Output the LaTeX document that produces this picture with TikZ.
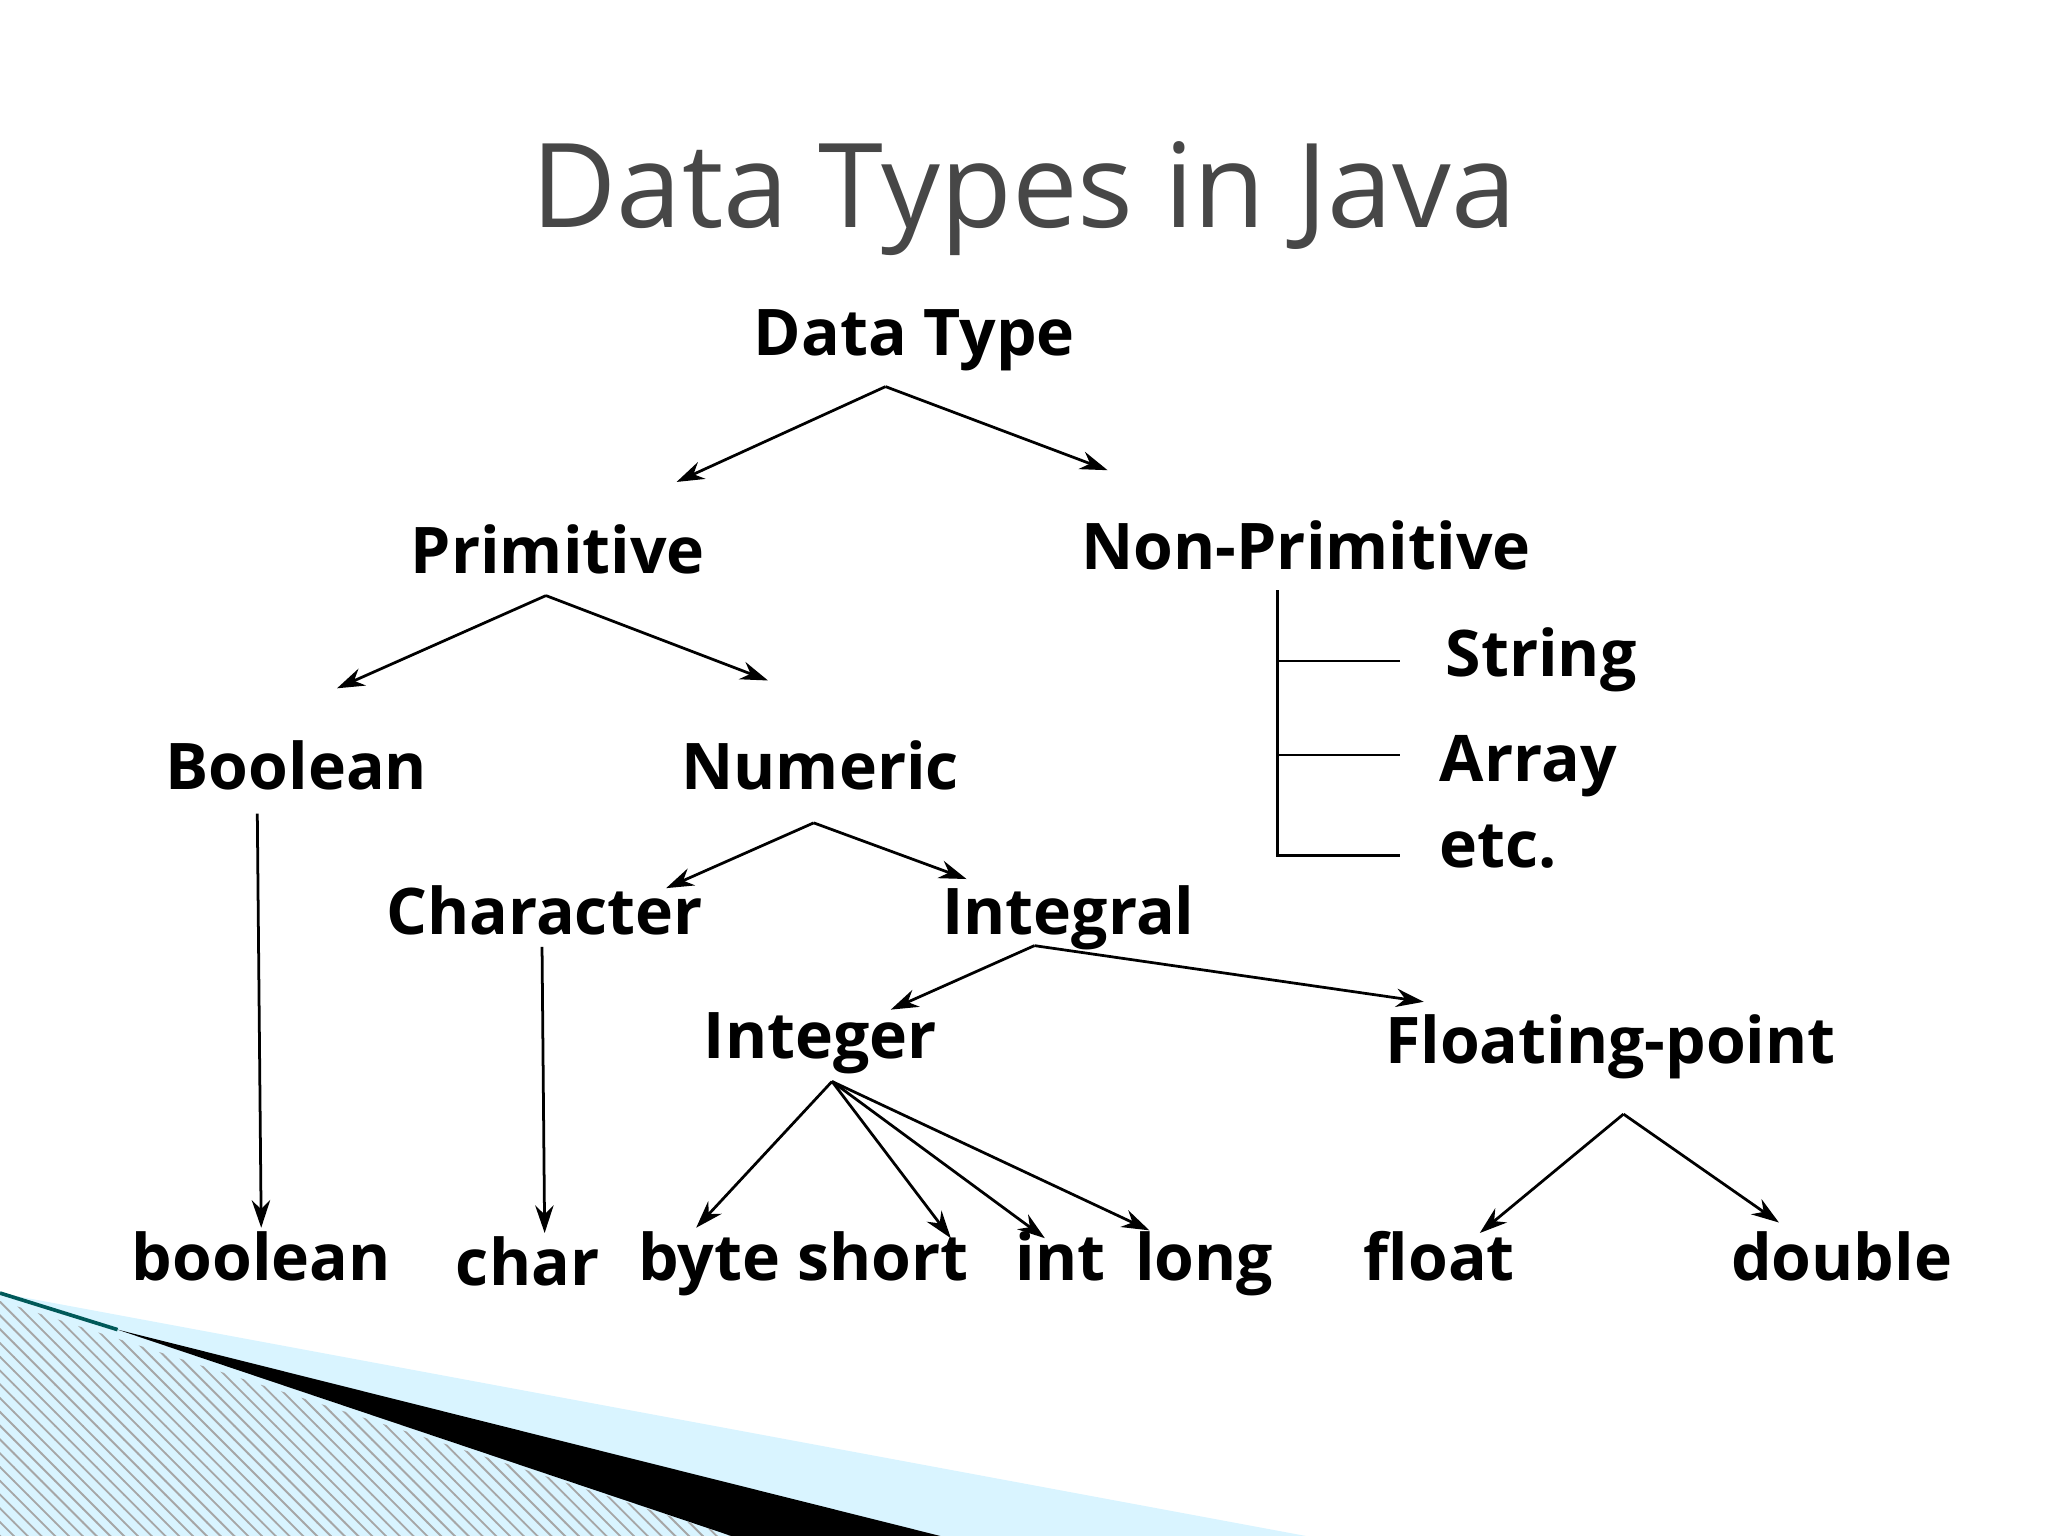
\documentclass[tikz,border=0pt]{standalone}
\usepackage{fontspec}
\setmainfont{Open Sans}
\usetikzlibrary{arrows.meta,patterns}
\begin{document}
\begin{tikzpicture}[x=0.01cm,y=-0.01cm,
  lab/.style={font=\fontsize{14}{16}\selectfont\bfseries, inner sep=1pt, text height=10.5pt, text depth=3.5pt},
  arr/.style={-{Stealth[length=6pt,width=4pt]}, line width=0.6pt},
  ln/.style={line width=0.6pt}]
\useasboundingbox (0,0) rectangle (1568,1176);
% decoration
\fill[blue!30!cyan!15] (0,990) -- (1000,1176) -- (0,1176) -- cycle;
\fill[pattern=north west lines, pattern color=gray!70] (0,996) -- (560,1176) -- (0,1176) -- cycle;
\fill[black] (90,1018) -- (720,1176) -- (560,1176) -- cycle;
\draw[teal!70!black, line width=0.8pt] (0,990) -- (90,1018);
% title
\node[font=\fontsize{25.5}{30}\selectfont, text=black!72] (title) at (784,152) {Data Types in Java};
% nodes
\node[lab] (dt) at (700,260) {Data Type};
\node[lab] (prim) at (427,427) {Primitive};
\node[lab] (np) at (1000,424) {Non-Primitive};
\node[lab] (str) at (1180,506) {String};
\node[lab] (arrn) at (1170,586) {Array};
\node[lab] (etc) at (1147,652) {etc.};
\node[lab] (bool) at (227,592) {Boolean};
\node[lab] (num) at (628,592) {Numeric};
\node[lab] (chr) at (417,703) {Character};
\node[lab] (intg) at (818,703) {Integral};
\node[lab] (integer) at (628,798) {Integer};
\node[lab] (fp) at (1233,802) {Floating-point};
\node[lab] (b1) at (200,968) {boolean};
\node[lab] (b2) at (404,972) {char};
\node[lab] (b3) at (543,968) {byte};
\node[lab] (b4) at (676,968) {short};
\node[lab] (b5) at (812,968) {int};
\node[lab] (b6) at (922,968) {long};
\node[lab] (b7) at (1102,968) {float};
\node[lab] (b8) at (1410,968) {double};
% connector anchors
\coordinate (dtb) at (678,296);
\coordinate (primb) at (418,456);
\coordinate (numb) at (623,630);
\coordinate (intgb) at (792,724);
\coordinate (integerb) at (637,828);
\coordinate (fpb) at (1243,853);
\draw[arr] (dtb) -- (518,369);
\draw[arr] (dtb) -- (848,360);
\draw[arr] (primb) -- (258,527);
\draw[arr] (primb) -- (588,521);
\draw[arr] (numb) -- (510,680);
\draw[arr] (numb) -- (740,673);
\draw[arr] (197,623) -- (200,940);
\draw[arr] (415,725) -- (417,944);
\draw[arr] (intgb) -- (682,773);
\draw[arr] (intgb) -- (1090,767);
\draw[arr] (integerb) -- (533,940);
\draw[arr] (integerb) -- (728,948);
\draw[arr] (integerb) -- (800,948);
\draw[arr] (integerb) -- (880,942);
\draw[arr] (fpb) -- (1133,944);
\draw[arr] (fpb) -- (1362,936);
\draw[ln] (978,452) -- (978,655) -- (1072,655);
\draw[ln] (978,506) -- (1072,506);
\draw[ln] (978,578) -- (1072,578);
\end{tikzpicture}
\end{document}
